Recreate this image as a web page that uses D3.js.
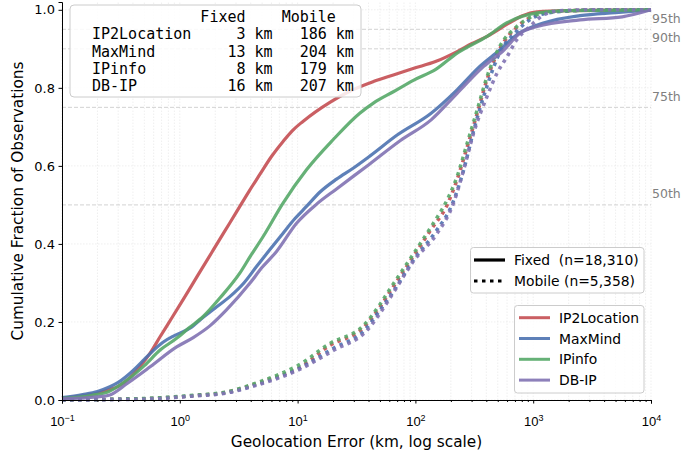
<!DOCTYPE html>
<html>
<head>
<meta charset="utf-8">
<script src="https://cdn.jsdelivr.net/npm/d3@7"></script>
<style>
body { margin: 0; background: #fff; }
svg { font-family: "DejaVu Sans", sans-serif; }
.mono { font-family: "DejaVu Sans Mono", monospace; white-space: pre; }
.pre { white-space: pre; }
</style>
</head>
<body>
<div id="chart"></div>
<script>
// Providers, colours and median table
var providers = ['IP2Location', 'MaxMind', 'IPinfo', 'DB-IP'];
var colors = ['#c44e52', '#4c72b0', '#55a868', '#8172b2'];
var fixedMedianKm = [3, 13, 8, 16];
var mobileMedianKm = [186, 204, 179, 207];
var fixedCount = '18,310';
var mobileCount = '5,358';
var percentiles = [50, 75, 90, 95];
var yTicks = [0, 0.2, 0.4, 0.6, 0.8, 1.0];
var xDecades = [0.1, 1, 10, 100, 1000, 10000];
var xExponents = ['\u22121', '0', '1', '2', '3', '4'];

var ip2locationFixed = [[0.1,0.005],[0.15,0.011],[0.2,0.018],[0.255,0.027],[0.3,0.035],[0.38,0.058],[0.46,0.086],[0.56,0.12],[0.68,0.162],[0.87,0.214],[1.07,0.258],[1.4,0.316],[1.92,0.384],[2.4,0.432],[3.03,0.482],[3.8,0.531],[4.78,0.578],[6.0,0.624],[7.5,0.662],[9.0,0.69],[11.1,0.714],[18.8,0.763],[28,0.792],[44,0.816],[65,0.833],[97,0.85],[150,0.868],[226,0.893],[300,0.913],[406,0.932],[640,0.968],[800,0.984],[1080,0.995],[2000,0.998],[10000,1.0]];
var maxmindFixed = [[0.1,0.006],[0.15,0.014],[0.2,0.022],[0.255,0.034],[0.3,0.045],[0.4,0.075],[0.5,0.104],[0.56,0.119],[0.72,0.148],[0.9,0.165],[1.22,0.184],[1.58,0.212],[2.0,0.236],[2.66,0.265],[3.5,0.30],[4.48,0.342],[5.8,0.385],[7.5,0.427],[9.5,0.465],[11.9,0.496],[15.5,0.533],[21.4,0.566],[29.6,0.594],[41,0.625],[70,0.679],[136,0.735],[226,0.795],[352,0.855],[520,0.897],[725,0.936],[1220,0.966],[2500,0.985],[5000,0.993],[10000,1.0]];
var ipinfoFixed = [[0.1,0.004],[0.18,0.012],[0.25,0.022],[0.353,0.05],[0.5,0.088],[0.68,0.128],[0.94,0.158],[1.2,0.185],[1.58,0.214],[2.2,0.262],[3.23,0.325],[4.0,0.37],[5.1,0.419],[7.5,0.504],[11.9,0.59],[20,0.667],[33.7,0.735],[44,0.761],[65,0.79],[97,0.82],[150,0.848],[226,0.889],[406,0.932],[600,0.967],[1080,0.992],[2000,0.998],[10000,1.0]];
var dbipFixed = [[0.1,0.003],[0.2,0.008],[0.255,0.013],[0.36,0.043],[0.56,0.085],[0.94,0.136],[1.3,0.16],[1.8,0.19],[2.49,0.231],[3.93,0.299],[5.0,0.34],[6.6,0.38],[9.8,0.453],[14.5,0.502],[21.4,0.541],[41,0.605],[74.6,0.665],[136,0.718],[226,0.786],[380,0.855],[565,0.897],[770,0.94],[1080,0.957],[2500,0.974],[5700,0.982],[10000,1.0]];

var ip2locationMobile = [[0.1,0],[0.3,0.002],[0.6,0.004],[1.3,0.011],[2.5,0.02],[4.5,0.042],[7,0.062],[10,0.08],[18.8,0.14],[36,0.185],[50,0.238],[61,0.278],[97,0.37],[136,0.437],[186,0.50],[226,0.565],[275,0.648],[335,0.735],[406,0.822],[520,0.90],[725,0.955],[1000,0.984],[1500,0.996],[3000,0.999],[10000,1.0]];
var maxmindMobile = [[0.1,0],[0.3,0.002],[0.6,0.004],[1.3,0.011],[2.5,0.019],[4.5,0.04],[7,0.06],[10,0.079],[20,0.132],[38,0.182],[50,0.23],[63,0.272],[97,0.36],[150,0.433],[204,0.50],[257,0.59],[312,0.69],[406,0.805],[520,0.89],[725,0.945],[1000,0.98],[1500,0.994],[3000,0.999],[10000,1.0]];
var ipinfoMobile = [[0.1,0],[0.3,0.002],[0.6,0.005],[1.3,0.012],[2.5,0.021],[4.5,0.044],[7,0.066],[10,0.088],[18.8,0.145],[36,0.19],[50,0.245],[61,0.285],[97,0.376],[136,0.444],[186,0.513],[226,0.573],[275,0.658],[335,0.744],[406,0.829],[520,0.906],[725,0.957],[1000,0.984],[1500,0.995],[3000,0.999],[10000,1.0]];
var dbipMobile = [[0.1,0],[0.3,0.001],[0.6,0.003],[1.3,0.01],[2.5,0.018],[4.5,0.038],[7,0.057],[10,0.076],[20.4,0.128],[39,0.179],[50,0.222],[65,0.275],[97,0.357],[153,0.427],[211,0.505],[257,0.59],[312,0.684],[406,0.778],[494,0.838],[600,0.88],[725,0.923],[935,0.957],[1200,0.985],[1600,0.997],[3000,1.0],[10000,1.0]];

var fixedSeries = [ip2locationFixed, maxmindFixed, ipinfoFixed, dbipFixed];
var mobileSeries = [ip2locationMobile, maxmindMobile, ipinfoMobile, dbipMobile];

var width = 690,
    height = 459,
    margin = { left: 62, right: 39, top: 2, bottom: 59 };

var svg = d3.select('#chart').append('svg')
    .attr('width', width)
    .attr('height', height);

var x = d3.scaleLog()
    .domain([0.1, 10000])
    .range([margin.left, width - margin.right]);

var y = d3.scaleLinear()
    .domain([0, 1.02])
    .range([height - margin.bottom, margin.top]);

// Faint grid on major and minor positions
var grid = svg.append('g').attr('class', 'grid');
grid.selectAll('.vgrid')
    .data(x.ticks())
    .enter().append('line')
    .attr('x1', function (d) { return x(d); })
    .attr('x2', function (d) { return x(d); })
    .attr('y1', y.range()[0])
    .attr('y2', y.range()[1])
    .attr('stroke', '#ebebeb')
    .attr('stroke-width', 0.8)
    .attr('stroke-dasharray', '1.5,1.5');

grid.selectAll('.hgrid')
    .data(yTicks)
    .enter().append('line')
    .attr('x1', x.range()[0])
    .attr('x2', x.range()[1])
    .attr('y1', function (d) { return y(d); })
    .attr('y2', function (d) { return y(d); })
    .attr('stroke', '#ebebeb')
    .attr('stroke-width', 0.8)
    .attr('stroke-dasharray', '1.5,1.5');

// Percentile reference lines
var pct = svg.append('g').attr('class', 'percentiles');
pct.selectAll('line')
    .data(percentiles)
    .enter().append('line')
    .attr('x1', x.range()[0])
    .attr('x2', x.range()[1])
    .attr('y1', function (d) { return y(d / 100); })
    .attr('y2', function (d) { return y(d / 100); })
    .attr('stroke', '#c8c8c8')
    .attr('stroke-width', 0.8)
    .attr('stroke-dasharray', '4,2');

pct.selectAll('text')
    .data(percentiles)
    .enter().append('text')
    .attr('x', x.range()[1] + 1)
    .attr('y', function (d) { return y(d / 100) - 6.5; })
    .attr('fill', '#808080')
    .style('font-size', '12.5px')
    .text(function (d) { return d + 'th'; });

// CDF lines
var line = d3.line()
    .x(function (d) { return x(d[0]); })
    .y(function (d) { return y(d[1]); })
    .curve(d3.curveMonotoneX);

var plot = svg.append('g').attr('class', 'lines');
providers.forEach(function (p, i) {
    plot.append('path')
        .datum(fixedSeries[i])
        .attr('d', line)
        .attr('fill', 'none')
        .attr('stroke', colors[i])
        .attr('stroke-width', 3.2)
        .attr('stroke-opacity', 0.9);
    plot.append('path')
        .datum(mobileSeries[i])
        .attr('d', line)
        .attr('fill', 'none')
        .attr('stroke', colors[i])
        .attr('stroke-width', 3.5)
        .attr('stroke-opacity', 0.9)
        .attr('stroke-dasharray', '3.5,4.5');
});

// Axes
var xAxis = svg.append('g')
    .attr('transform', 'translate(0,' + y(0) + ')')
    .call(d3.axisBottom(x).tickValues(xDecades).tickSize(3.5).tickFormat(''));
svg.append('g')
    .attr('transform', 'translate(0,' + y(0) + ')')
    .call(d3.axisBottom(x).tickValues(x.ticks().filter(function (d) { return xDecades.indexOf(d) < 0; })).tickSize(2).tickFormat(''))
    .call(function (g) { g.select('.domain').remove(); });

xAxis.selectAll('.tick').append('text')
    .attr('y', 26)
    .attr('fill', '#000')
    .attr('text-anchor', 'middle')
    .style('font-size', '13px')
    .each(function (d, i) {
        var t = d3.select(this);
        t.append('tspan').text('10');
        t.append('tspan').attr('dy', -5.5).style('font-size', '9px').text(xExponents[i]);
    });

var yAxis = svg.append('g')
    .attr('transform', 'translate(' + x.range()[0] + ',0)')
    .call(d3.axisLeft(y).tickValues(yTicks).tickSize(3.5).tickPadding(3.5).tickFormat(d3.format('.1f')));
yAxis.selectAll('text').style('font-size', '13px').style('font-family', '"DejaVu Sans", sans-serif');

svg.selectAll('.domain').attr('stroke-width', 1);

svg.append('text')
    .attr('x', (x.range()[0] + x.range()[1]) / 2)
    .attr('y', 447)
    .attr('text-anchor', 'middle')
    .style('font-size', '15.3px')
    .text('Geolocation Error (km, log scale)');

svg.append('text')
    .attr('transform', 'translate(22.5,' + ((y.range()[0] + y.range()[1]) / 2) + ') rotate(-90)')
    .attr('text-anchor', 'middle')
    .style('font-size', '15.3px')
    .text('Cumulative Fraction of Observations');

// Median table in the top-left corner
var table = svg.append('g').attr('class', 'table');
table.append('rect')
    .attr('x', 70).attr('y', 5).attr('width', 291).attr('height', 92)
    .attr('rx', 4)
    .attr('fill', '#fff').attr('fill-opacity', 0.85)
    .attr('stroke', '#cccccc');

var rows = ['            Fixed    Mobile'].concat(providers.map(function (p, i) {
    return p.padEnd(12) + String(fixedMedianKm[i]).padStart(5) + ' km' + String(mobileMedianKm[i]).padStart(6) + ' km';
}));
table.selectAll('text')
    .data(rows)
    .enter().append('text')
    .attr('class', 'mono')
    .attr('x', 92)
    .attr('y', function (d, i) { return i === 0 ? 21.7 : 39.3 + (i - 1) * 17.2; })
    .style('font-size', '15px')
    .text(function (d) { return d; });

// Line style legend
var styleLegend = svg.append('g');
styleLegend.append('rect')
    .attr('x', 470.5).attr('y', 247.5).attr('width', 173.5).attr('height', 45.5)
    .attr('rx', 3)
    .attr('fill', '#fff').attr('fill-opacity', 0.8)
    .attr('stroke', '#cccccc');
var styleItems = [
    { label: 'Fixed  (n=' + fixedCount + ')', dash: null },
    { label: 'Mobile (n=' + mobileCount + ')', dash: '3.5,4.5' }
];
styleItems.forEach(function (d, i) {
    var cy = 260 + i * 21;
    styleLegend.append('line')
        .attr('x1', 474).attr('x2', 505)
        .attr('y1', cy).attr('y2', cy)
        .attr('stroke', '#000')
        .attr('stroke-width', 3.2)
        .attr('stroke-dasharray', d.dash);
    styleLegend.append('text')
        .attr('class', 'pre')
        .attr('x', 514)
        .attr('y', cy + 5)
        .style('font-size', '13.9px')
        .text(d.label);
});

// Provider colour legend
var colorLegend = svg.append('g');
colorLegend.append('rect')
    .attr('x', 514.5).attr('y', 305.5).attr('width', 129.5).attr('height', 87.5)
    .attr('rx', 3)
    .attr('fill', '#fff').attr('fill-opacity', 0.8)
    .attr('stroke', '#cccccc');
providers.forEach(function (p, i) {
    var cy = 317.7 + i * 20.8;
    colorLegend.append('line')
        .attr('x1', 519).attr('x2', 550)
        .attr('y1', cy).attr('y2', cy)
        .attr('stroke', colors[i])
        .attr('stroke-opacity', 0.9)
        .attr('stroke-width', 3);
    colorLegend.append('text')
        .attr('x', 559)
        .attr('y', cy + 5)
        .style('font-size', '13.9px')
        .text(p);
});
</script>
</body>
</html>
